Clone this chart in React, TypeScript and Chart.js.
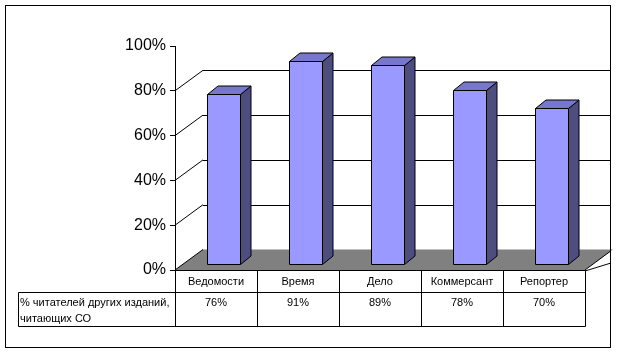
import React, { useEffect, useRef } from "react";
import { Chart, registerables } from "chart.js";

Chart.register(...registerables);

const categories = ["Ведомости", "Время", "Дело", "Коммерсант", "Репортер"];
const values = [0.76, 0.91, 0.89, 0.78, 0.7];
const seriesLabel = ["% читателей других изданий,", "читающих СО"];
const yMin = 0;
const yMax = 1;
const yStep = 0.2;

const FONT = "'Liberation Sans', Arial, sans-serif";
const WALL_DEPTH = { x: 28, y: -20.5 };
const BAR_OFFSET = { x: 7.5, y: -5.3 };
const BAR_DEPTH = { x: 10.5, y: -8.5 };
const COLORS = {
  front: "#9999FF",
  top: "#7777CC",
  side: "#4D4D80",
  floor: "#808080",
  line: "#000000",
};
const TABLE = { headerLeft: 18, catRowBottom: 292, valRowBottom: 326 };

const px = (v: number) => Math.round(v) + 0.5;

const excel3d = {
  id: "excel3d",
  beforeDatasetsDraw(chart: any) {
    const { ctx, chartArea: a, scales } = chart;
    const ys = scales.y;
    const y0 = ys.getPixelForValue(0);
    ctx.save();
    // floor
    ctx.fillStyle = COLORS.floor;
    ctx.beginPath();
    ctx.moveTo(a.left, y0);
    ctx.lineTo(a.right, y0);
    ctx.lineTo(a.right + WALL_DEPTH.x, y0 + WALL_DEPTH.y);
    ctx.lineTo(a.left + WALL_DEPTH.x, y0 + WALL_DEPTH.y);
    ctx.closePath();
    ctx.fill();
    ctx.strokeStyle = COLORS.line;
    ctx.lineWidth = 1;
    // floor right edge
    ctx.beginPath();
    ctx.moveTo(a.right, y0);
    ctx.lineTo(a.right + WALL_DEPTH.x - 3, y0 + WALL_DEPTH.y + 2);
    ctx.stroke();
    ctx.beginPath();
    ctx.moveTo(a.right, y0 + 1);
    ctx.lineTo(611, y0 - 7);
    ctx.stroke();
    // wall gridlines and connectors
    const ticks = ys.ticks.map((t: any) => t.value);
    ticks.forEach((v: number) => {
      if (v >= yMax) return;
      const fy = ys.getPixelForValue(v);
      const by = px(fy + WALL_DEPTH.y);
      ctx.beginPath();
      ctx.moveTo(a.left, fy);
      ctx.lineTo(a.left + WALL_DEPTH.x, fy + WALL_DEPTH.y);
      ctx.stroke();
      if (v > 0) {
        ctx.beginPath();
        ctx.moveTo(a.left + WALL_DEPTH.x, by);
        ctx.lineTo(611, by);
        ctx.stroke();
      }
    });
    ctx.restore();
  },
  afterDatasetsDraw(chart: any) {
    const { ctx } = chart;
    const meta = chart.getDatasetMeta(0);
    ctx.save();
    ctx.strokeStyle = COLORS.line;
    ctx.lineWidth = 1;
    ctx.lineJoin = "miter";
    meta.data.forEach((el: any) => {
      const p = el.getProps(["x", "y", "base", "width"], true);
      const l = px(p.x - p.width / 2 + BAR_OFFSET.x);
      const r = px(p.x + p.width / 2 + BAR_OFFSET.x);
      const t = px(p.y + BAR_OFFSET.y);
      const b = px(p.base + BAR_OFFSET.y);
      const dx = BAR_DEPTH.x;
      const dy = BAR_DEPTH.y;
      // side
      ctx.beginPath();
      ctx.moveTo(r, t);
      ctx.lineTo(r + dx, t + dy);
      ctx.lineTo(r + dx, b + dy);
      ctx.lineTo(r, b);
      ctx.closePath();
      ctx.fillStyle = COLORS.side;
      ctx.fill();
      ctx.stroke();
      // top
      ctx.beginPath();
      ctx.moveTo(l, t);
      ctx.lineTo(l + dx, t + dy);
      ctx.lineTo(r + dx, t + dy);
      ctx.lineTo(r, t);
      ctx.closePath();
      ctx.fillStyle = COLORS.top;
      ctx.fill();
      ctx.stroke();
      // front
      ctx.beginPath();
      ctx.rect(l, t, r - l, b - t);
      ctx.fillStyle = COLORS.front;
      ctx.fill();
      ctx.stroke();
    });
    ctx.restore();
  },
  afterDraw(chart: any) {
    const { ctx, chartArea: a, scales } = chart;
    const xs = scales.x;
    const y0 = px(scales.y.getPixelForValue(0));
    const colW = (a.right - a.left) / categories.length;
    const r1 = px(TABLE.catRowBottom);
    const r2 = px(TABLE.valRowBottom);
    ctx.save();
    ctx.strokeStyle = COLORS.line;
    ctx.lineWidth = 1;
    // horizontal lines
    ctx.beginPath();
    ctx.moveTo(px(a.left), y0);
    ctx.lineTo(px(a.right), y0);
    ctx.moveTo(px(TABLE.headerLeft), r1);
    ctx.lineTo(px(a.right), r1);
    ctx.moveTo(px(TABLE.headerLeft), r2);
    ctx.lineTo(px(a.right), r2);
    // vertical lines
    ctx.moveTo(px(TABLE.headerLeft), r1);
    ctx.lineTo(px(TABLE.headerLeft), r2);
    for (let i = 0; i <= categories.length; i++) {
      const x = px(a.left + i * colW);
      ctx.moveTo(x, y0);
      ctx.lineTo(x, r2);
    }
    ctx.stroke();
    // texts
    ctx.fillStyle = "#000";
    ctx.font = `11px ${FONT}`;
    ctx.textBaseline = "middle";
    ctx.textAlign = "center";
    categories.forEach((c, i) => {
      const cx = xs.getPixelForValue(i);
      ctx.fillText(c, cx, 281.5);
      ctx.fillText(Math.round(values[i] * 100) + "%", cx, 302.5);
    });
    ctx.textAlign = "left";
    ctx.fillText(seriesLabel[0], 20, 302.5);
    ctx.fillText(seriesLabel[1], 20, 318.5);
    // outer border
    ctx.strokeRect(5.5, 5.5, 605, 342);
    ctx.restore();
  },
};

export default function App() {
  const ref = useRef<HTMLCanvasElement | null>(null);
  useEffect(() => {
    if (!ref.current) return;
    const chart = new Chart(ref.current, {
      type: "bar",
      data: {
        labels: categories,
        datasets: [
          {
            data: values,
            backgroundColor: "rgba(0,0,0,0)",
            borderWidth: 0,
            barPercentage: 0.4,
            categoryPercentage: 1,
          },
        ],
      },
      options: {
        responsive: false,
        animation: false,
        devicePixelRatio: 1,
        layout: { padding: { left: 0, top: 46, right: 32, bottom: 84 } },
        plugins: { legend: { display: false }, tooltip: { enabled: false } },
        scales: {
          x: { display: false },
          y: {
            min: yMin,
            max: yMax,
            afterFit: (s: any) => {
              s.width = 175;
            },
            ticks: {
              stepSize: yStep,
              color: "#000",
              padding: 4,
              font: { family: FONT, size: 16 },
              callback: (v: any) => Math.round(Number(v) * 100) + "%",
            },
            grid: {
              drawOnChartArea: false,
              drawTicks: true,
              tickLength: 5,
              color: "#000",
            },
            border: { display: true, color: "#000", width: 1 },
          },
        },
      },
      plugins: [excel3d],
    });
    return () => chart.destroy();
  }, []);
  return (
    <canvas
      ref={ref}
      width={617}
      height={354}
      style={{ position: "absolute", left: 0, top: 0, display: "block" }}
    />
  );
}
